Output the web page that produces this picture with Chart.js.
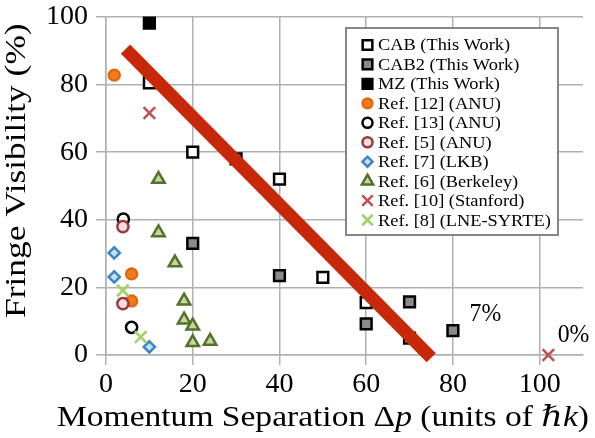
<!DOCTYPE html>
<html><head><meta charset="utf-8">
<script src="https://cdn.jsdelivr.net/npm/chart.js@4/dist/chart.umd.min.js"></script>
<style>html,body{margin:0;padding:0;background:#fff}canvas{display:block}</style>
</head><body>
<canvas id="c" width="595" height="438"></canvas>
<script>
// ---- data ----
const xTicks = [0, 20, 40, 60, 80, 100];
const yTicks = [0, 20, 40, 60, 80, 100];

const cabX  = [10, 20, 30, 40, 50, 60, 70];
const cabY  = [80.5, 60, 58, 52, 23, 15.5, 5];
const cab2X = [20, 40, 60, 70, 80];
const cab2Y = [33, 23.5, 9.2, 15.7, 7.2];
const mzX   = [10];
const mzY   = [98.2];
const ref12X = [1.9, 5.9, 5.9];
const ref12Y = [82.8, 24, 16];
const ref13X = [4, 5.9];
const ref13Y = [40.2, 8.2];
const ref5X  = [3.9, 3.9];
const ref5Y  = [38, 15.2];
const ref7X  = [1.9, 1.9, 10];
const ref7Y  = [30.2, 23.1, 2.4];
const ref6X  = [12.1, 12.1, 15.9, 18, 18, 20, 20, 24];
const ref6Y  = [52, 36.2, 27.3, 16, 10.4, 8.6, 3.7, 4.1];
const ref10X = [10, 102];
const ref10Y = [71.6, 0];
const ref8X  = [3.9, 8];
const ref8Y  = [19.1, 5.3];
const fitX   = [4.5, 75];
const fitY   = [90.5, -0.8];

const seriesLabels = ['CAB (This Work)', 'CAB2 (This Work)', 'MZ (This Work)', 'Ref. [12] (ANU)', 'Ref. [13] (ANU)',
  'Ref. [5] (ANU)', 'Ref. [7] (LKB)', 'Ref. [6] (Berkeley)', 'Ref. [10] (Stanford)', 'Ref. [8] (LNE-SYRTE)'];
const seriesX = [cabX, cab2X, mzX, ref12X, ref13X, ref5X, ref7X, ref6X, ref10X, ref8X];
const seriesY = [cabY, cab2Y, mzY, ref12Y, ref13Y, ref5Y, ref7Y, ref6Y, ref10Y, ref8Y];

const noteTexts = ['7%', '0%'];
const noteX = [87.5, 107.8];
const noteY = [12, 5.8];

// ---- styles ----
const styles = [
  {ps:'rect', r:7.6, bw:2.5, fill:'#ffffff', stroke:'#000000'},
  {ps:'rect', r:7.6, bw:2.5, fill:'#8a8a8a', stroke:'#000000'},
  {ps:'rect', r:7.6, bw:2.5, fill:'#000000', stroke:'#000000'},
  {ps:'circle', r:5.6, bw:2.2, fill:'#f07a1c', stroke:'#e2650c'},
  {ps:'circle', r:5.6, bw:2.5, fill:'#ffffff', stroke:'#000000'},
  {ps:'circle', r:5.6, bw:2.5, fill:'#f6dede', stroke:'#9a3a3e'},
  {ps:'rectRot', r:5.6, bw:2.5, fill:'#c9def0', stroke:'#3b86c4'},
  {ps:'triangle', r:7.2, bw:2.5, fill:'#c3d8a0', stroke:'#54702a'},
  {ps:'crossRot', r:8.2, bw:2.5, fill:'#c0504d', stroke:'#c0504d'},
  {ps:'crossRot', r:8.2, bw:2.8, fill:'#a5d16c', stroke:'#a5d16c'}
];
const SERIF = '"Liberation Serif", "DejaVu Serif", serif';
const gridColor = '#b0b0b0';

const datasets = seriesLabels.map((lab, i) => ({
  label: lab,
  data: seriesX[i].map((x, j) => ({x: x, y: seriesY[i][j]})),
  pointStyle: styles[i].ps,
  pointRadius: styles[i].r,
  pointBorderWidth: styles[i].bw,
  pointBackgroundColor: styles[i].fill,
  pointBorderColor: styles[i].stroke,
  showLine: false,
  clip: false,
  order: seriesLabels.length - i
}));
datasets.push({
  label: 'fit',
  data: fitX.map((x, j) => ({x: x, y: fitY[j]})),
  showLine: true,
  borderColor: '#c8280a',
  borderWidth: 13,
  borderCapStyle: 'butt',
  pointRadius: 0,
  clip: false,
  order: -1
});

// draw text stretched horizontally (serif substitute for Computer Modern)
function drawStretched(ctx, parts, size, x0, y0, sx, align) {
  let total = 0;
  parts.forEach(p => { ctx.font = p[1] + size + 'px ' + SERIF; total += ctx.measureText(p[0]).width; });
  ctx.save();
  ctx.translate(x0, y0);
  ctx.scale(sx, 1);
  let x = align === 'center' ? -total / 2 : 0;
  ctx.textAlign = 'left';
  parts.forEach(p => { ctx.font = p[1] + size + 'px ' + SERIF; ctx.fillText(p[0], x, 0); x += ctx.measureText(p[0]).width; });
  ctx.restore();
}

const overlay = {
  id: 'overlay',
  afterDraw(chart) {
    const ctx = chart.ctx;
    const xs = chart.scales.x, ys = chart.scales.y;
    ctx.save();
    // annotations
    ctx.fillStyle = '#000';
    ctx.textBaseline = 'middle';
    noteTexts.forEach((t, i) => drawStretched(ctx, [[t, '']], 25, xs.getPixelForValue(noteX[i]), ys.getPixelForValue(noteY[i]), 0.95, 'center'));

    // legend box
    const bx = 346, by = 28, bw = 212, bh = 207;
    ctx.fillStyle = '#ffffff';
    ctx.fillRect(bx, by, bw, bh);
    ctx.strokeStyle = '#7a7a7a';
    ctx.lineWidth = 1.8;
    ctx.strokeRect(bx, by, bw, bh);
    ctx.textBaseline = 'middle';
    seriesLabels.forEach((lab, i) => {
      const cy = 45 + i * 19.45;
      const st = styles[i];
      ctx.fillStyle = st.fill;
      ctx.strokeStyle = st.stroke;
      ctx.lineWidth = st.bw;
      Chart.helpers.drawPoint(ctx, {pointStyle: st.ps, radius: st.r * 0.9, borderWidth: st.bw, rotation: 0}, 367.5, cy);
      ctx.fillStyle = '#000';
      drawStretched(ctx, [[lab, '']], 17, 378, cy + 1, 1.08, 'left');
    });

    // x title (mixed italic)
    ctx.fillStyle = '#000';
    ctx.textBaseline = 'alphabetic';
    const parts = [['Momentum Separation Δ', ''], ['p', 'italic '], [' (units of ', ''], ['ℏk', 'italic '], [')', '']];
    let total = 0;
    parts.forEach(p => { ctx.font = p[1] + '29px ' + SERIF; total += ctx.measureText(p[0]).width; });
    drawStretched(ctx, parts, 29, 323, 426, 532 / total, 'center');

    // y title
    ctx.translate(25, 318);
    ctx.rotate(-Math.PI / 2);
    ctx.textBaseline = 'alphabetic';
    drawStretched(ctx, [['Fringe Visibility (%)', '']], 29, 0, 0, 1.22, 'left');
    ctx.restore();
  }
};

new Chart(document.getElementById('c'), {
  type: 'scatter',
  data: {datasets: datasets},
  options: {
    responsive: false,
    animation: false,
    devicePixelRatio: 1,
    layout: {padding: {top: 17, right: 12, left: 0, bottom: 0}},
    plugins: {legend: {display: false}, tooltip: {enabled: false}},
    scales: {
      x: {
        type: 'linear', min: 0, max: 110,
        afterFit(s) { s.height = 83; s.paddingLeft = 0; s.paddingRight = 0; },
        afterBuildTicks(s) { s.ticks = xTicks.map(v => ({value: v})); },
        ticks: {font: {family: SERIF, size: 28}, color: '#000', padding: 3, maxRotation: 0},
        grid: {color: gridColor, lineWidth: 1.5, tickLength: 10},
        border: {color: gridColor, width: 1.5}
      },
      y: {
        min: 0, max: 100,
        afterFit(s) { s.width = 106; s.paddingTop = 0; s.paddingBottom = 0; },
        afterBuildTicks(s) { s.ticks = yTicks.map(v => ({value: v})); },
        ticks: {font: {family: SERIF, size: 28}, color: '#000', padding: 8},
        grid: {color: gridColor, lineWidth: 1.5, tickLength: 10},
        border: {color: gridColor, width: 1.5}
      }
    }
  },
  plugins: [overlay]
});
</script>
</body></html>
